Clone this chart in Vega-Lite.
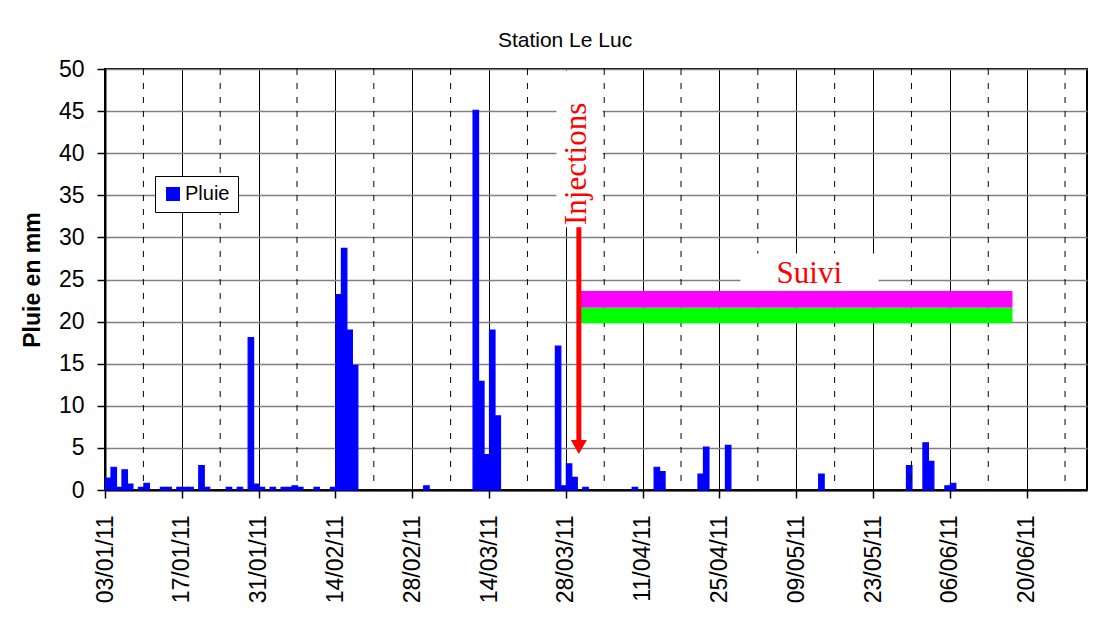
{
  "$schema": "https://vega.github.io/schema/vega-lite/v6.json",
  "width": 982,
  "height": 421,
  "autosize": {"type": "none"},
  "padding": {"left": 105, "top": 69, "right": 16, "bottom": 133},
  "background": "white",
  "title": {"text": "Station Le Luc", "fontSize": 21, "fontWeight": "normal", "font": "Liberation Sans", "anchor": "middle", "dx": -31, "offset": 7, "color": "black"},
  "config": {
    "font": "Liberation Sans",
    "view": {"stroke": "black", "strokeWidth": 2},
    "bar": {"binSpacing": 0},
    "axis": {"domainColor": "black", "domainWidth": 2, "tickColor": "black", "tickWidth": 1.5, "tickSize": 8, "labelColor": "black", "labelFontSize": 23, "labelFont": "Liberation Sans"},
    "axisX": {"gridColor": "black", "gridWidth": 1, "labelAngle": -90, "labelPadding": 17},
    "axisY": {"gridColor": "#808080", "gridWidth": 1.5, "labelPadding": 13, "titleFontSize": 23, "titleFontWeight": "bold", "titleColor": "black", "titlePadding": 14, "titleFont": "Liberation Sans"}
  },
  "layer": [
    {
      "data": {"values": [
        {"date": "2011-01-03", "pluie": 1.4},
        {"date": "2011-01-04", "pluie": 2.7},
        {"date": "2011-01-05", "pluie": 0.3},
        {"date": "2011-01-06", "pluie": 2.4},
        {"date": "2011-01-07", "pluie": 0.7},
        {"date": "2011-01-09", "pluie": 0.3},
        {"date": "2011-01-10", "pluie": 0.8},
        {"date": "2011-01-13", "pluie": 0.3},
        {"date": "2011-01-14", "pluie": 0.3},
        {"date": "2011-01-16", "pluie": 0.3},
        {"date": "2011-01-17", "pluie": 0.3},
        {"date": "2011-01-18", "pluie": 0.3},
        {"date": "2011-01-20", "pluie": 2.9},
        {"date": "2011-01-21", "pluie": 0.3},
        {"date": "2011-01-25", "pluie": 0.3},
        {"date": "2011-01-27", "pluie": 0.3},
        {"date": "2011-01-29", "pluie": 18.1},
        {"date": "2011-01-30", "pluie": 0.7},
        {"date": "2011-01-31", "pluie": 0.3},
        {"date": "2011-02-02", "pluie": 0.3},
        {"date": "2011-02-04", "pluie": 0.3},
        {"date": "2011-02-05", "pluie": 0.3},
        {"date": "2011-02-06", "pluie": 0.5},
        {"date": "2011-02-07", "pluie": 0.3},
        {"date": "2011-02-10", "pluie": 0.3},
        {"date": "2011-02-13", "pluie": 0.3},
        {"date": "2011-02-14", "pluie": 23.2},
        {"date": "2011-02-15", "pluie": 28.7},
        {"date": "2011-02-16", "pluie": 19.0},
        {"date": "2011-02-17", "pluie": 14.8},
        {"date": "2011-03-02", "pluie": 0.5},
        {"date": "2011-03-11", "pluie": 45.1},
        {"date": "2011-03-12", "pluie": 12.9},
        {"date": "2011-03-13", "pluie": 4.2},
        {"date": "2011-03-14", "pluie": 19.0},
        {"date": "2011-03-15", "pluie": 8.8},
        {"date": "2011-03-26", "pluie": 17.1},
        {"date": "2011-03-27", "pluie": 0.5},
        {"date": "2011-03-28", "pluie": 3.1},
        {"date": "2011-03-29", "pluie": 1.5},
        {"date": "2011-03-31", "pluie": 0.3},
        {"date": "2011-04-09", "pluie": 0.3},
        {"date": "2011-04-13", "pluie": 2.7},
        {"date": "2011-04-14", "pluie": 2.2},
        {"date": "2011-04-21", "pluie": 1.9},
        {"date": "2011-04-22", "pluie": 5.1},
        {"date": "2011-04-26", "pluie": 5.3},
        {"date": "2011-05-13", "pluie": 1.9},
        {"date": "2011-05-29", "pluie": 2.9},
        {"date": "2011-06-01", "pluie": 5.6},
        {"date": "2011-06-02", "pluie": 3.4},
        {"date": "2011-06-05", "pluie": 0.5},
        {"date": "2011-06-06", "pluie": 0.8}
      ]},
      "mark": {"type": "bar", "color": "#0000ff", "stroke": "#0000ff", "strokeWidth": 1.2},
      "encoding": {
        "x": {
          "field": "date", "type": "temporal", "timeUnit": "utcyearmonthdate", "title": null,
          "scale": {"type": "utc", "domain": [{"year": 2011, "month": 1, "date": 3, "utc": true}, {"year": 2011, "month": 7, "date": 1, "utc": true}]},
          "axis": {
            "values": [
              {"year": 2011, "month": 1, "date": 3, "utc": true},
              {"year": 2011, "month": 1, "date": 17, "utc": true},
              {"year": 2011, "month": 1, "date": 31, "utc": true},
              {"year": 2011, "month": 2, "date": 14, "utc": true},
              {"year": 2011, "month": 2, "date": 28, "utc": true},
              {"year": 2011, "month": 3, "date": 14, "utc": true},
              {"year": 2011, "month": 3, "date": 28, "utc": true},
              {"year": 2011, "month": 4, "date": 11, "utc": true},
              {"year": 2011, "month": 4, "date": 25, "utc": true},
              {"year": 2011, "month": 5, "date": 9, "utc": true},
              {"year": 2011, "month": 5, "date": 23, "utc": true},
              {"year": 2011, "month": 6, "date": 6, "utc": true},
              {"year": 2011, "month": 6, "date": 20, "utc": true}
            ],
            "labelExpr": "utcFormat(datum.value, '%d/%m/%y')", "grid": true
          }
        },
        "y": {"field": "pluie", "type": "quantitative", "title": "Pluie en mm", "scale": {"domain": [0, 50]}, "axis": {"values": [0, 5, 10, 15, 20, 25, 30, 35, 40, 45, 50], "grid": true}},
        "color": {
          "datum": "Pluie",
          "scale": {"domain": ["Pluie"], "range": ["#0000ff"]},
          "legend": {"orient": "none", "legendX": 50, "legendY": 107, "title": null, "symbolType": "square", "symbolSize": 196, "labelFontSize": 20, "labelFont": "Liberation Sans", "labelColor": "black", "strokeColor": "black", "fillColor": "white", "padding": 8, "symbolStrokeWidth": 0, "labelOffset": 2}
        }
      }
    },
    {
      "data": {"values": [
        {"d": "2011-01-10"}, {"d": "2011-01-24"}, {"d": "2011-02-07"}, {"d": "2011-02-21"},
        {"d": "2011-03-07"}, {"d": "2011-03-21"}, {"d": "2011-04-04"}, {"d": "2011-04-18"},
        {"d": "2011-05-02"}, {"d": "2011-05-16"}, {"d": "2011-05-30"}, {"d": "2011-06-13"}, {"d": "2011-06-27"}
      ]},
      "mark": {"type": "rule", "color": "black", "strokeWidth": 1, "strokeDash": [6, 8]},
      "encoding": {"x": {"field": "d", "type": "temporal", "title": null, "scale": {"type": "utc"}}}
    },
    {
      "data": {"values": [
        {"x1": "2011-03-26T07:00:00Z", "x2": "2011-04-03T17:00:00Z", "y1": 31.2, "y2": 49.8},
        {"x1": "2011-04-28T20:00:00Z", "x2": "2011-05-24T00:00:00Z", "y1": 23.6, "y2": 28.1}
      ]},
      "mark": {"type": "rect", "fill": "white"},
      "encoding": {
        "x": {"field": "x1", "type": "temporal", "title": null, "scale": {"type": "utc"}},
        "x2": {"field": "x2"},
        "y": {"field": "y1", "type": "quantitative", "title": "Pluie en mm"},
        "y2": {"field": "y2"}
      }
    },
    {
      "data": {"values": [
        {"debut": "2011-03-30T17:00:00Z", "fin": "2011-06-17T10:00:00Z", "bas": 21.65, "haut": 23.63, "bande": "haut"},
        {"debut": "2011-03-30T17:00:00Z", "fin": "2011-06-17T10:00:00Z", "bas": 19.8, "haut": 21.65, "bande": "bas"}
      ]},
      "mark": {"type": "rect"},
      "encoding": {
        "x": {"field": "debut", "type": "temporal", "title": null, "scale": {"type": "utc"}},
        "x2": {"field": "fin"},
        "y": {"field": "bas", "type": "quantitative", "title": "Pluie en mm"},
        "y2": {"field": "haut"},
        "fill": {"field": "bande", "type": "nominal", "scale": {"domain": ["haut", "bas"], "range": ["#ff00ff", "#00ff00"]}, "legend": null}
      }
    },
    {
      "data": {"values": [{"date": "2011-03-30T09:00:00Z", "haut": 31.2, "bas": 5.9, "pointe": 5.1}]},
      "layer": [
        {
          "mark": {"type": "rule", "color": "#ff0000", "strokeWidth": 5},
          "encoding": {
            "x": {"field": "date", "type": "temporal", "title": null, "scale": {"type": "utc"}},
            "y": {"field": "haut", "type": "quantitative", "title": "Pluie en mm"},
            "y2": {"field": "bas"}
          }
        },
        {
          "mark": {"type": "point", "shape": "M-1,-0.875L1,-0.875L0,0.875Z", "size": 256, "filled": true, "color": "#ff0000", "opacity": 1, "strokeWidth": 0},
          "encoding": {
            "x": {"field": "date", "type": "temporal", "title": null, "scale": {"type": "utc"}},
            "y": {"field": "pointe", "type": "quantitative", "title": "Pluie en mm"}
          }
        }
      ]
    },
    {
      "data": {"values": [{"date": "2011-03-31T17:30:00Z", "y": 31.47, "label": "Injections"}]},
      "mark": {"type": "text", "angle": 270, "align": "left", "baseline": "alphabetic", "font": "Liberation Serif", "fontSize": 31, "color": "#ff0000"},
      "encoding": {
        "x": {"field": "date", "type": "temporal", "title": null, "scale": {"type": "utc"}},
        "y": {"field": "y", "type": "quantitative", "title": "Pluie en mm"},
        "text": {"field": "label"}
      }
    },
    {
      "data": {"values": [{"date": "2011-05-11T09:00:00Z", "y": 24.62, "label": "Suivi"}]},
      "mark": {"type": "text", "align": "center", "baseline": "alphabetic", "font": "Liberation Serif", "fontSize": 31, "color": "#ff0000"},
      "encoding": {
        "x": {"field": "date", "type": "temporal", "title": null, "scale": {"type": "utc"}},
        "y": {"field": "y", "type": "quantitative", "title": "Pluie en mm"},
        "text": {"field": "label"}
      }
    }
  ]
}
